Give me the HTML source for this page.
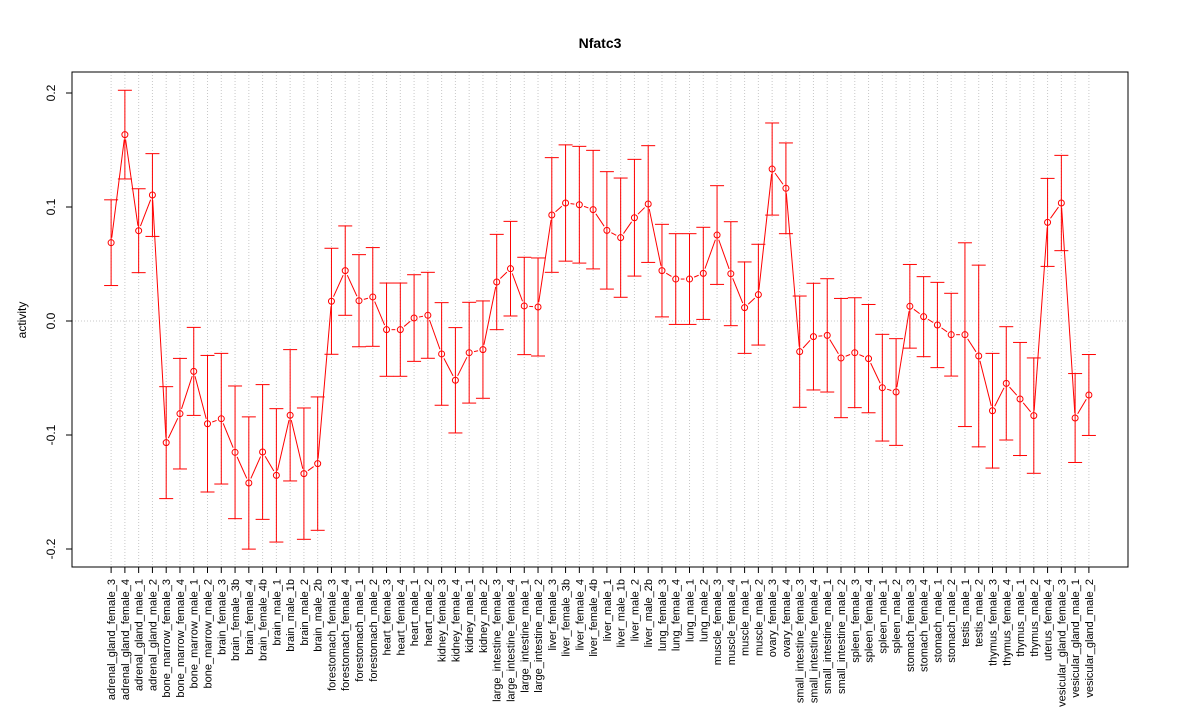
<!DOCTYPE html>
<html><head><meta charset="utf-8"><style>
html,body{margin:0;padding:0;background:#fff}
svg{display:block;font-family:"Liberation Sans",Arial,sans-serif}
</style></head><body>
<svg id="chart" width="1200" height="720" viewBox="0 0 1200 720" xmlns="http://www.w3.org/2000/svg">
<text x="600" y="48" text-anchor="middle" font-size="14" font-weight="bold">Nfatc3</text>
<text x="26" y="320" text-anchor="middle" font-size="12" transform="rotate(-90 26 320)">activity</text>
<g id="grid"></g>
<g id="series"></g>
<g id="axes"></g>
<rect x="72" y="72" width="1056" height="495" fill="none" stroke="#000" stroke-width="1"/>
</svg>
<script>
const categories = ["adrenal_gland_female_3","adrenal_gland_female_4","adrenal_gland_male_1","adrenal_gland_male_2","bone_marrow_female_3","bone_marrow_female_4","bone_marrow_male_1","bone_marrow_male_2","brain_female_3","brain_female_3b","brain_female_4","brain_female_4b","brain_male_1","brain_male_1b","brain_male_2","brain_male_2b","forestomach_female_3","forestomach_female_4","forestomach_male_1","forestomach_male_2","heart_female_3","heart_female_4","heart_male_1","heart_male_2","kidney_female_3","kidney_female_4","kidney_male_1","kidney_male_2","large_intestine_female_3","large_intestine_female_4","large_intestine_male_1","large_intestine_male_2","liver_female_3","liver_female_3b","liver_female_4","liver_female_4b","liver_male_1","liver_male_1b","liver_male_2","liver_male_2b","lung_female_3","lung_female_4","lung_male_1","lung_male_2","muscle_female_3","muscle_female_4","muscle_male_1","muscle_male_2","ovary_female_3","ovary_female_4","small_intestine_female_3","small_intestine_female_4","small_intestine_male_1","small_intestine_male_2","spleen_female_3","spleen_female_4","spleen_male_1","spleen_male_2","stomach_female_3","stomach_female_4","stomach_male_1","stomach_male_2","testis_male_1","testis_male_2","thymus_female_3","thymus_female_4","thymus_male_1","thymus_male_2","uterus_female_4","vesicular_gland_female_3","vesicular_gland_male_1","vesicular_gland_male_2"];
const activity = [0.0687,0.1635,0.0792,0.1105,-0.1067,-0.0813,-0.0442,-0.0901,-0.0857,-0.1152,-0.1421,-0.1149,-0.1354,-0.0827,-0.1339,-0.1251,0.0173,0.0442,0.0178,0.0211,-0.0076,-0.0076,0.0026,0.0050,-0.0289,-0.0520,-0.0278,-0.0251,0.0342,0.0459,0.0132,0.0123,0.0930,0.1035,0.1020,0.0977,0.0795,0.0731,0.0906,0.1026,0.0442,0.0368,0.0368,0.0418,0.0754,0.0415,0.0117,0.0231,0.1333,0.1164,-0.0269,-0.0137,-0.0126,-0.0325,-0.0278,-0.0330,-0.0585,-0.0623,0.0129,0.0038,-0.0035,-0.0120,-0.0120,-0.0307,-0.0787,-0.0547,-0.0684,-0.0830,0.0865,0.1035,-0.0851,-0.0649];
const stderr = [0.0376,0.0389,0.0368,0.0363,0.0491,0.0485,0.0386,0.0599,0.0573,0.0582,0.0580,0.0591,0.0585,0.0576,0.0576,0.0585,0.0465,0.0392,0.0404,0.0433,0.0409,0.0409,0.0380,0.0377,0.0450,0.0462,0.0442,0.0427,0.0418,0.0415,0.0427,0.0430,0.0503,0.0510,0.0512,0.0520,0.0515,0.0523,0.0512,0.0512,0.0406,0.0398,0.0398,0.0404,0.0433,0.0456,0.0401,0.0442,0.0404,0.0398,0.0488,0.0468,0.0497,0.0523,0.0482,0.0475,0.0468,0.0468,0.0367,0.0351,0.0374,0.0363,0.0806,0.0797,0.0503,0.0497,0.0496,0.0506,0.0386,0.0418,0.0390,0.0355];
const yTicks = [-0.2,-0.1,0.0,0.1,0.2];
const yTickLabels = ["-0.2","-0.1","0.0","0.1","0.2"];

const NS="http://www.w3.org/2000/svg";
const X0=72,X1=1128,Y0=72,Y1=567;
const n=categories.length;
const xStep=(X1-X0)/((n-1)*1.08);
function xs(i){return X0+(n-1)*0.04*xStep+i*xStep;}
function ys(v){return 321-v*1140;}
function mk(tag,attrs,parent){const e=document.createElementNS(NS,tag);for(const k in attrs)e.setAttribute(k,attrs[k]);parent.appendChild(e);return e;}
const grid=document.getElementById('grid'),ser=document.getElementById('series'),axes=document.getElementById('axes');

// grid
categories.forEach((c,i)=>{
  const l=mk('line',{x1:xs(i),x2:xs(i),y1:Y0,y2:Y1,stroke:'#c8c8c8','stroke-width':1,'stroke-dasharray':'1,2'},grid);
  
  
});
const hz=mk('line',{x1:X0,x2:X1,y1:ys(0),y2:ys(0),stroke:'#c8c8c8','stroke-width':1,'stroke-dasharray':'1,2'},grid);



// connecting segments (type b)
for(let i=0;i<n-1;i++){
  const xa=xs(i),ya=ys(activity[i]),xb=xs(i+1),yb=ys(activity[i+1]);
  const dx=xb-xa,dy=yb-ya,d=Math.hypot(dx,dy),g=5;
  if(d>2*g){
    const s=mk('line',{x1:xa+dx*g/d,y1:ya+dy*g/d,x2:xb-dx*g/d,y2:yb-dy*g/d,stroke:'#ff0000','stroke-width':1},ser);
    
    
  }
}
// error bars and points
categories.forEach((c,i)=>{
  const x=xs(i),up=ys(activity[i]+stderr[i]),lo=ys(activity[i]-stderr[i]);
  const g=mk('g',{stroke:'#ff0000','stroke-width':1,fill:'none'},ser);
  
  
  mk('line',{x1:x,x2:x,y1:up,y2:lo},g);
  mk('line',{x1:x-7,x2:x+7,y1:up,y2:up},g);
  mk('line',{x1:x-7,x2:x+7,y1:lo,y2:lo},g);
  const p=mk('circle',{cx:x,cy:ys(activity[i]),r:3,stroke:'#ff0000','stroke-width':1,fill:'none'},ser);
  
  
});

// x axis
categories.forEach((c,i)=>{
  const x=xs(i);
  mk('line',{x1:x,x2:x,y1:Y1,y2:Y1+6,stroke:'#000'},axes);
  const t=mk('text',{x:0,y:0,'text-anchor':'end','font-size':11,transform:`translate(${x+4},${Y1+12}) rotate(-90)`},axes);
  t.textContent=c;
  
  
});
// y axis
yTicks.forEach((v,i)=>{
  const y=ys(v);
  mk('line',{x1:X0-6,x2:X0,y1:y,y2:y,stroke:'#000'},axes);
  const t=mk('text',{x:0,y:0,'text-anchor':'middle','font-size':12,transform:`translate(55,${y}) rotate(-90)`},axes);
  t.textContent=yTickLabels[i];
  
  
});
</script>
</body></html>
